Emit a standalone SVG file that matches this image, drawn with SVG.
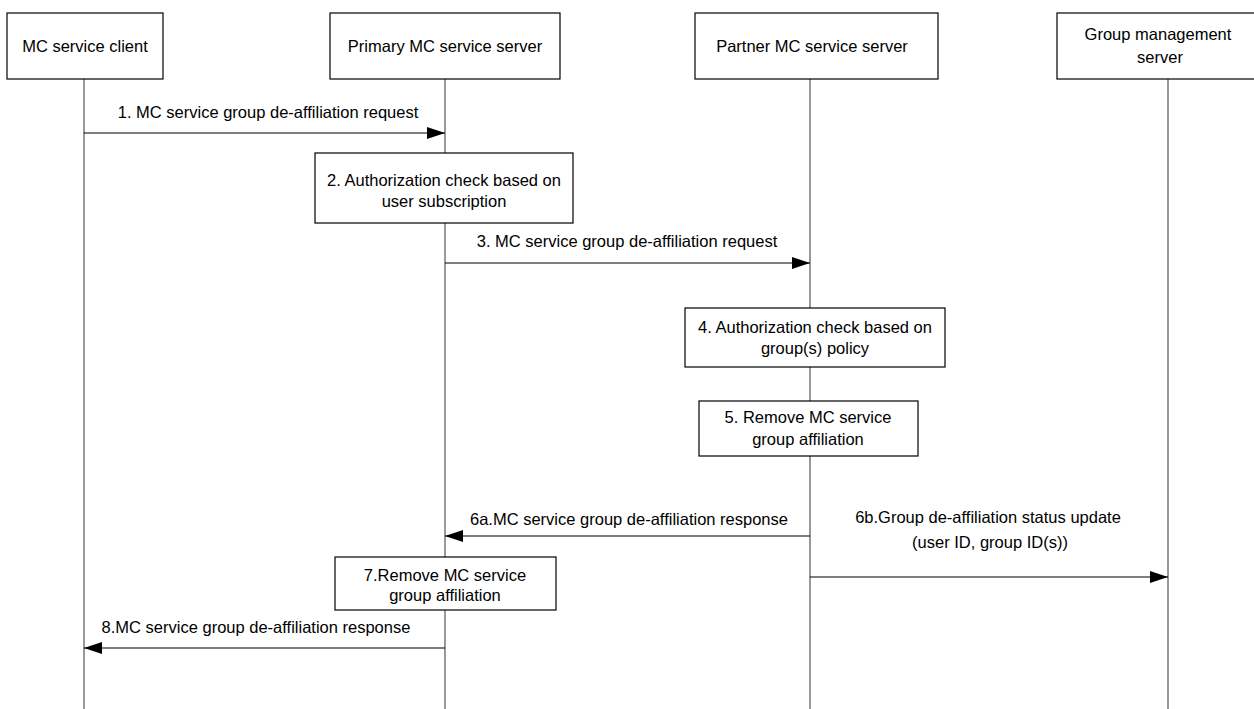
<svg xmlns="http://www.w3.org/2000/svg" width="1254" height="709" viewBox="0 0 1254 709">
<style>
.box{fill:#fff;stroke:#000;stroke-width:1.2}
.life{stroke:#555;stroke-width:1.2;fill:none}
.msg{stroke:#000;stroke-width:1.2;fill:none}
text{font-family:"Liberation Sans",Arial,sans-serif;font-size:16.5px;fill:#000;text-anchor:middle}
</style>
<defs>
<marker id="ah" markerWidth="18" markerHeight="12" refX="18" refY="6" orient="auto" markerUnits="userSpaceOnUse">
<path d="M0,0 L18,6 L0,12 Z" fill="#000"/>
</marker>
</defs>
<g id="lifelines">
<line class="life" x1="84" y1="79" x2="84" y2="709"/>
<line class="life" x1="445" y1="79" x2="445" y2="709"/>
<line class="life" x1="810" y1="79" x2="810" y2="709"/>
<line class="life" x1="1168" y1="79" x2="1168" y2="709"/>
</g>
<g id="client"><rect class="box" x="7" y="13" width="156" height="66"/><text x="85" y="52">MC service client</text></g>
<g id="primary"><rect class="box" x="330" y="13" width="230" height="66"/><text x="445" y="52">Primary MC service server</text></g>
<g id="partner"><rect class="box" x="695" y="13" width="243" height="66"/><text x="812" y="52">Partner MC service server</text></g>
<g id="gms"><rect class="box" x="1057" y="13" width="210" height="66"/><text x="1158" y="40">Group management</text><text x="1160" y="63">server</text></g>
<g id="step2"><rect class="box" x="315" y="153" width="258" height="70"/><text x="444" y="186">2. Authorization check based on</text><text x="444" y="207">user subscription</text></g>
<g id="step4"><rect class="box" x="685" y="308" width="260" height="59"/><text x="815" y="333">4. Authorization check based on</text><text x="815" y="354">group(s) policy</text></g>
<g id="step5"><rect class="box" x="699" y="401" width="219" height="55"/><text x="808" y="423">5. Remove MC service</text><text x="808" y="445">group affiliation</text></g>
<g id="step7"><rect class="box" x="335" y="557" width="221" height="53"/><text x="445" y="581">7.Remove MC service</text><text x="445" y="601">group affiliation</text></g>
<g id="connectors">
<line class="msg" x1="84" y1="133" x2="445" y2="133" marker-end="url(#ah)"/>
<text x="268" y="118">1. MC service group de-affiliation request</text>
<line class="msg" x1="445" y1="263" x2="810" y2="263" marker-end="url(#ah)"/>
<text x="627" y="247">3. MC service group de-affiliation request</text>
<line class="msg" x1="810" y1="536" x2="445" y2="536" marker-end="url(#ah)"/>
<text x="629" y="525">6a.MC service group de-affiliation response</text>
<line class="msg" x1="810" y1="577" x2="1168" y2="577" marker-end="url(#ah)"/>
<text x="988" y="523">6b.Group de-affiliation status update</text>
<text x="990" y="548">(user ID, group ID(s))</text>
<line class="msg" x1="445" y1="648" x2="84" y2="648" marker-end="url(#ah)"/>
<text x="256" y="633">8.MC service group de-affiliation response</text>
</g>
</svg>
